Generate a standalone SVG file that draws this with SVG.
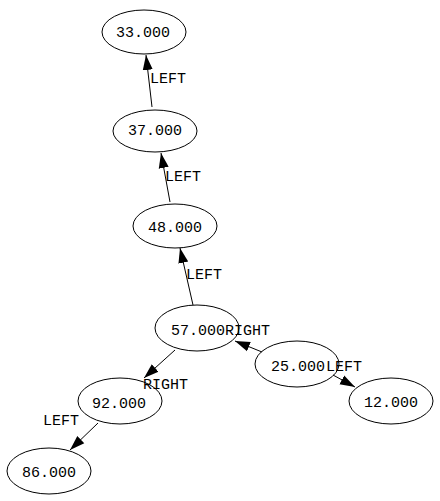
<svg xmlns="http://www.w3.org/2000/svg" width="440" height="501" viewBox="0 0 440 501">
<style>
.n ellipse{fill:#fff;stroke:#000;stroke-width:1}
text{font-family:"Liberation Mono","DejaVu Sans Mono",monospace;font-size:15px;fill:#000}
.e line{stroke:#000;stroke-width:1;marker-end:url(#ah)}
</style>
<defs>
<marker id="ah" markerUnits="userSpaceOnUse" markerWidth="16" markerHeight="12" viewBox="0 0 16 12" refX="15" refY="6" orient="auto">
<path d="M0,1 L15,6 L0,11 Z" fill="#000"/>
</marker>
</defs>
<rect width="440" height="501" fill="#fff"/>
<g id="n33" class="n"><ellipse cx="144" cy="32" rx="42" ry="22"/><text x="116" y="37">33.000</text></g>
<g id="n37" class="n"><ellipse cx="155" cy="131" rx="42" ry="21"/><text x="128" y="135">37.000</text></g>
<g id="n48" class="n"><ellipse cx="175" cy="226" rx="42" ry="22"/><text x="148" y="232">48.000</text></g>
<g id="n57" class="n"><ellipse cx="197" cy="328" rx="42" ry="23"/><text x="171" y="335">57.000</text></g>
<g id="n25" class="n"><ellipse cx="297" cy="364" rx="42" ry="23"/><text x="271" y="371">25.000</text></g>
<g id="n12" class="n"><ellipse cx="391" cy="401" rx="42" ry="23"/><text x="364" y="407">12.000</text></g>
<g id="n92" class="n"><ellipse cx="120" cy="401" rx="42" ry="23"/><text x="92" y="408">92.000</text></g>
<g id="n86" class="n"><ellipse cx="49" cy="471" rx="42" ry="23"/><text x="22" y="477">86.000</text></g>
<g id="edges" class="e">
<line x1="152" y1="107" x2="146" y2="55"/>
<line x1="170" y1="202" x2="161" y2="153"/>
<line x1="193" y1="305" x2="180" y2="248"/>
<line x1="262" y1="352" x2="235" y2="341"/>
<line x1="175" y1="350" x2="144" y2="378"/>
<line x1="333" y1="375" x2="355" y2="387"/>
<line x1="98" y1="423" x2="70" y2="450"/>
<text x="150" y="83">LEFT</text>
<text x="165" y="181">LEFT</text>
<text x="186" y="279">LEFT</text>
<text x="225" y="335">RIGHT</text>
<text x="326" y="371">LEFT</text>
<text x="143" y="389">RIGHT</text>
<text x="43" y="425">LEFT</text>
</g>
</svg>
